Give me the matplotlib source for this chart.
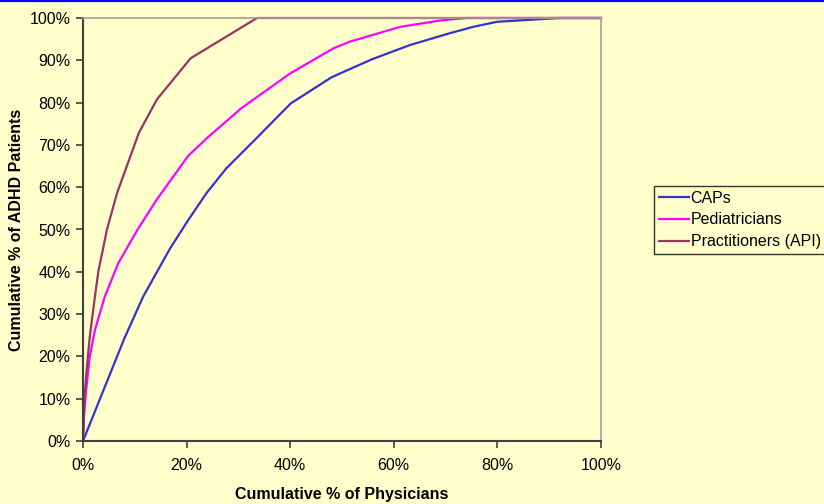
import numpy as np
import matplotlib
matplotlib.use('Agg')
import matplotlib.pyplot as plt
from matplotlib.lines import Line2D
from matplotlib.ticker import FuncFormatter

plt.rcParams['font.family'] = ['Liberation Sans', 'DejaVu Sans']

# Cumulative % of physicians (x) vs cumulative % of ADHD patients (y)
capsX = [0, 8.0, 11.6, 16.8, 20.3, 23.9, 27.7, 33.5, 40.1, 48.0, 55.7, 63.1, 70.8, 75.3, 79.9, 92.0, 100]
capsY = [0, 24.3, 34.1, 45.5, 52.2, 58.7, 64.5, 71.6, 79.8, 86.0, 90.2, 93.6, 96.4, 97.9, 99.1, 100, 100]

pedX = [0, 0.2, 0.6, 1.3, 2.3, 4.2, 6.8, 10.5, 14.2, 20.3, 24.2, 30.6, 40.0, 48.3, 51.5, 61.2, 68.9, 74.0, 100]
pedY = [0, 5.7, 12.0, 19.9, 26.2, 34.1, 42.0, 49.9, 57.0, 67.4, 71.9, 78.7, 86.9, 92.8, 94.4, 97.9, 99.4, 100, 100]

apiX = [0, 0.2, 0.7, 1.3, 2.3, 3.0, 3.9, 4.6, 6.6, 8.7, 10.8, 14.3, 20.8, 33.6, 100]
apiY = [0, 9.0, 16.7, 24.6, 34.1, 40.4, 45.6, 49.9, 58.7, 65.8, 72.9, 80.8, 90.5, 100, 100]

labels = ['CAPs', 'Pediatricians', 'Practitioners (API)']
colors = ['#3333CC', '#FF00FF', '#993366']

bg = '#FFFFCC'
fs = 11.5
fig = plt.figure(figsize=(8.24, 5.04), dpi=100, facecolor=bg)
ax = fig.add_axes([83/824, 1-441/504, (601-83)/824, (441-18)/504])
ax.set_facecolor(bg)

# thin blue rule across the top of the slide
fig.add_artist(Line2D([0, 1], [1-1/504, 1-1/504], transform=fig.transFigure, color='#0000FF', lw=1.6))

for xs, ys, lab, c in zip([capsX, pedX, apiX], [capsY, pedY, apiY], labels, colors):
    ax.plot(xs, ys, color=c, lw=1.6, label=lab, clip_on=False)

ax.set_xlim(0, 100)
ax.set_ylim(0, 100)
ax.set_xticks(np.arange(0, 101, 20))
ax.set_yticks(np.arange(0, 101, 10))
pct = FuncFormatter(lambda v, p: '%d%%' % v)
ax.xaxis.set_major_formatter(pct)
ax.yaxis.set_major_formatter(pct)
ax.tick_params(axis='both', direction='out', length=5, width=1.2, color='#404040', labelsize=fs, pad=4)
ax.tick_params(axis='x', pad=7)

for s in ['left', 'bottom']:
    ax.spines[s].set_color('#404040')
    ax.spines[s].set_linewidth(1.5)
for s in ['top', 'right']:
    ax.spines[s].set_color('#A0A0A0')
    ax.spines[s].set_linewidth(1.2)

ax.set_xlabel('Cumulative % of Physicians', fontsize=fs, fontweight='bold', labelpad=10)
ax.set_ylabel('Cumulative % of ADHD Patients', fontsize=fs, fontweight='bold', labelpad=4)

leg = fig.legend(loc='center left', bbox_to_anchor=(654/824, 1-220/504), fontsize=fs,
                 frameon=True, fancybox=False, handlelength=1.9, handletextpad=0.1,
                 borderpad=0.3, labelspacing=0.42, borderaxespad=0)
leg.get_frame().set_edgecolor('black')
leg.get_frame().set_facecolor(bg)
leg.get_frame().set_linewidth(1.0)

fig.savefig('out.png', dpi=100, facecolor=bg)
